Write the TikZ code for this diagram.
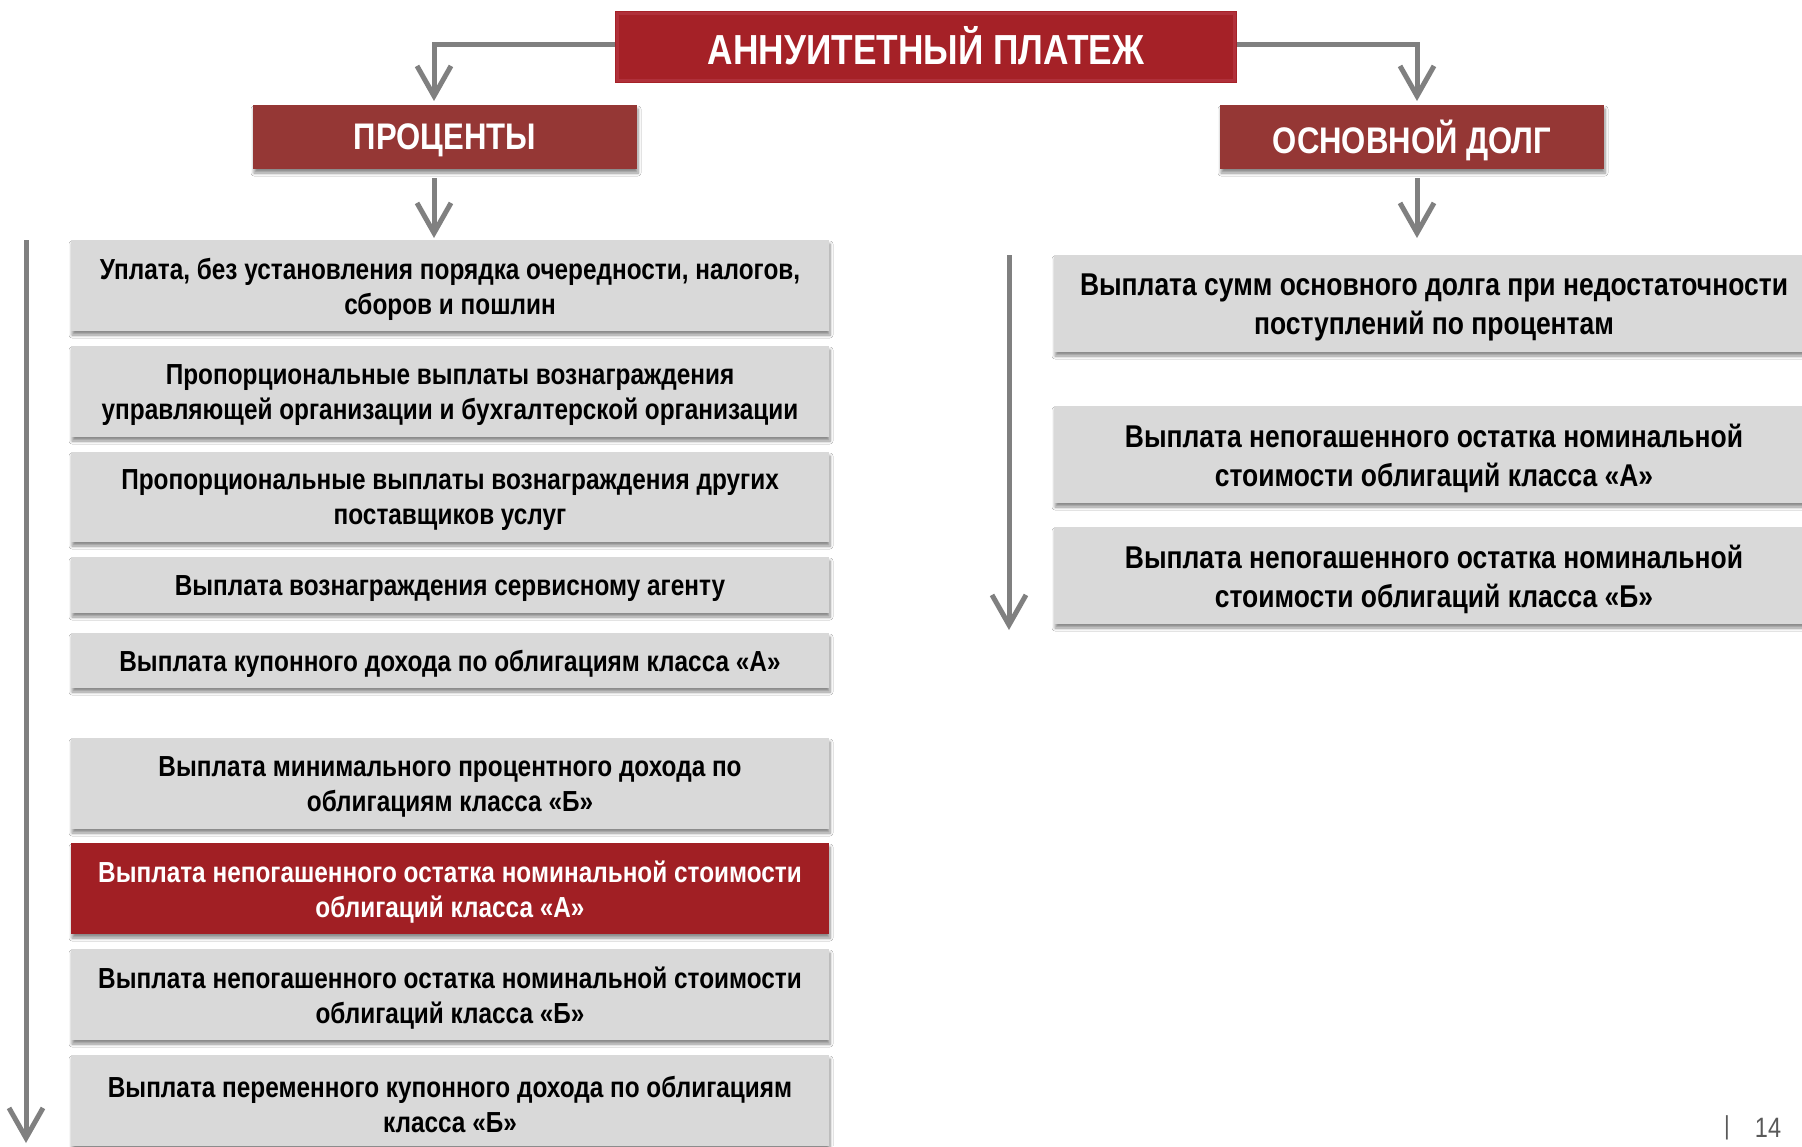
\documentclass[tikz,border=0pt]{standalone}
\usepackage{fontspec}
\setmainfont[FakeStretch=0.84]{Liberation Sans}
\usetikzlibrary{arrows.meta,shadows.blur,calc}
\definecolor{titlered}{HTML}{A52127}
\definecolor{titleedge}{HTML}{B0303A}
\definecolor{headred}{HTML}{953735}
\definecolor{boxred}{HTML}{A11F24}
\definecolor{boxgray}{HTML}{D9D9D9}
\definecolor{arrgray}{HTML}{808080}
\definecolor{pagegray}{HTML}{595959}
% box with its text set 3.5pt lower than the box centre
\newcommand\mybox[7]{%
  \node[#2,minimum height=#5pt] (#1) at (#3,#4) {};
  \node[#6] (#1t) at ($(#1.center)+(0,3.5)$) {#7};}
\begin{document}
\begin{tikzpicture}[x=1pt,y=-1pt,
  shade/.style={blur shadow={shadow xshift=1pt,shadow yshift=-4pt,shadow opacity=45,shadow blur radius=3pt,shadow blur steps=6}},
  graybox/.style={shade,fill=boxgray,inner sep=0pt,minimum width=758pt},
  redbox/.style={graybox,fill=boxred},
  ltext/.style={inner sep=0pt,align=center,font=\bfseries\fontsize{29}{35}\selectfont},
  lwtext/.style={ltext,text=white},
  rbox/.style={shade,fill=boxgray,inner sep=0pt,minimum width=760pt},
  rtext/.style={inner sep=0pt,align=center,font=\bfseries\fontsize{31.5}{39}\selectfont},
  headbox/.style={shade,fill=headred,inner sep=0pt,minimum width=384pt},
  htext/.style={inner sep=0pt,text=white,font=\bfseries\fontsize{37}{40}\selectfont},
  titlebox/.style={fill=titlered,inner sep=0pt,minimum width=622pt,minimum height=72pt},
  arr/.style={draw=arrgray,line width=5pt,-{Straight Barb[length=30pt,width=34pt,line width=5pt]}}
]
\useasboundingbox (0,0) rectangle (1802,1146);
\fill[white] (0,0) rectangle (1802,1146);

% title and headers
\node[titlebox] (top) at (926,47) {};
\draw[titleedge,line width=3pt] ($(top.north west)+(3,3)$) rectangle ($(top.south east)+(-3,-3)$);
\node[inner sep=0pt,text=white,font=\bfseries\fontsize{42}{46}\selectfont] (toptext) at ($(top.center)+(0,-1)$) {АННУИТЕТНЫЙ ПЛАТЕЖ};
\mybox{proc}{headbox}{445}{137}{64}{htext}{ПРОЦЕНТЫ}
\mybox{osn}{headbox}{1412}{137}{64}{htext}{ОСНОВНОЙ ДОЛГ}

% left column
\mybox{l1}{graybox}{450}{285.5}{91}{ltext}{Уплата, без установления порядка очередности, налогов,\\ сборов и пошлин}
\mybox{l2}{graybox}{450}{391.5}{91}{ltext}{Пропорциональные выплаты вознаграждения\\ управляющей организации и бухгалтерской организации}
\mybox{l3}{graybox}{450}{497}{90}{ltext}{Пропорциональные выплаты вознаграждения других\\ поставщиков услуг}
\mybox{l4}{graybox}{450}{585}{56}{ltext}{Выплата вознаграждения сервисному агенту}
\mybox{l5}{graybox}{450}{660.5}{55}{ltext}{Выплата купонного дохода по облигациям класса «А»}
\mybox{l6}{graybox}{450}{783.5}{91}{ltext}{Выплата минимального процентного дохода по\\ облигациям класса «Б»}
\mybox{l7}{redbox}{450}{888.5}{91}{lwtext}{Выплата непогашенного остатка номинальной стоимости\\ облигаций класса «А»}
\mybox{l8}{graybox}{450}{994.5}{91}{ltext}{Выплата непогашенного остатка номинальной стоимости\\ облигаций класса «Б»}
\mybox{l9}{graybox}{450}{1100.5}{91}{ltext}{Выплата переменного купонного дохода по облигациям\\ класса «Б»}

% right column
\mybox{r1}{rbox}{1434}{303.5}{97}{rtext}{Выплата сумм основного долга при недостаточности\\ поступлений по процентам}
\mybox{r2}{rbox}{1434}{454.5}{97}{rtext}{Выплата непогашенного остатка номинальной\\ стоимости облигаций класса «А»}
\mybox{r3}{rbox}{1434}{575.5}{97}{rtext}{Выплата непогашенного остатка номинальной\\ стоимости облигаций класса «Б»}

% connectors
\coordinate (tl) at (615,44);
\coordinate (tlend) at (434,101);
\coordinate (tr) at (1237,44);
\coordinate (trend) at (1417,101);
\draw[arr] (tl) -| (tlend);
\draw[arr] (tr) -| (trend);
\coordinate (ps) at (434,178);
\coordinate (pe) at (434,238);
\coordinate (os) at (1417,178);
\coordinate (oe) at (1417,238);
\draw[arr] (ps) -- (pe);
\draw[arr] (os) -- (oe);
\coordinate (ls) at (26,240);
\coordinate (le) at (26,1143);
\draw[arr] (ls) -- (le);
\coordinate (rs) at (1009,255);
\coordinate (re) at (1009,630);
\draw[arr] (rs) -- (re);

% page number
\node[text=pagegray,font=\fontsize{26}{30}\selectfont] (bar) at (1727,1128) {|};
\node[text=pagegray,font=\fontsize{28}{30}\selectfont] (pg) at (1768,1128) {14};
\end{tikzpicture}
\end{document}
